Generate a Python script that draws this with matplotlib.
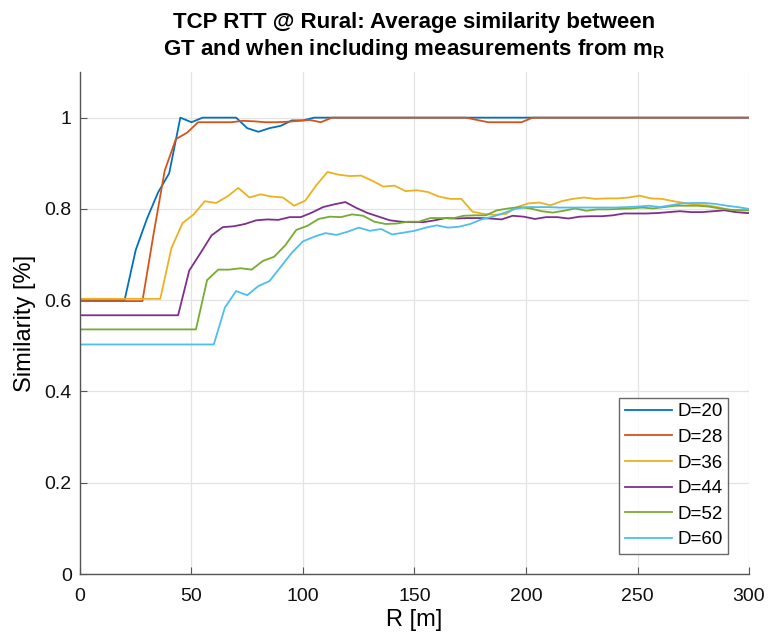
import numpy as np
import matplotlib
matplotlib.use("Agg")
import matplotlib.pyplot as plt

plt.rcParams['font.family'] = ['Liberation Sans', 'DejaVu Sans']
plt.rcParams['mathtext.fontset'] = 'custom'
plt.rcParams['mathtext.rm'] = 'Liberation Sans'
plt.rcParams['mathtext.bf'] = 'Liberation Sans:bold'

# distance D for each curve; each curve is flat up to R = D, then sampled every 5 m
dists = [20, 28, 36, 44, 52, 60]
labels = ['D=20', 'D=28', 'D=36', 'D=44', 'D=52', 'D=60']
colors = ['#0072BD', '#D95319', '#EDB120', '#7E2F8E', '#77AC30', '#4DBEEE']

sim_d20 = [0.600, 0.710, 0.778, 0.836, 0.878, 1.000, 0.990, 1.000, 1.000, 1.000,
           1.000, 0.977, 0.969, 0.977, 0.982, 0.994, 0.994, 1.000, 1.000, 1.000,
           1.000, 1.000, 1.000, 1.000, 1.000, 1.000, 1.000, 1.000, 1.000, 1.000,
           1.000, 1.000, 1.000, 1.000, 1.000, 1.000, 1.000, 1.000, 1.000, 1.000,
           1.000, 1.000, 1.000, 1.000, 1.000, 1.000, 1.000, 1.000, 1.000, 1.000,
           1.000, 1.000, 1.000, 1.000, 1.000, 1.000, 1.000]
sim_d28 = [0.598, 0.745, 0.884, 0.953, 0.967, 0.990, 0.990, 0.990, 0.990, 0.993,
           0.992, 0.990, 0.990, 0.991, 0.993, 0.995, 0.990, 1.000, 1.000, 1.000,
           1.000, 1.000, 1.000, 1.000, 1.000, 1.000, 1.000, 1.000, 1.000, 1.000,
           0.995, 0.990, 0.990, 0.990, 0.990, 1.000, 1.000, 1.000, 1.000, 1.000,
           1.000, 1.000, 1.000, 1.000, 1.000, 1.000, 1.000, 1.000, 1.000, 1.000,
           1.000, 1.000, 1.000, 1.000, 1.000]
sim_d36 = [0.603, 0.714, 0.769, 0.788, 0.817, 0.813, 0.827, 0.846, 0.825, 0.832,
           0.827, 0.825, 0.807, 0.818, 0.852, 0.881, 0.875, 0.872, 0.873, 0.862,
           0.849, 0.851, 0.839, 0.841, 0.837, 0.827, 0.822, 0.822, 0.794, 0.789,
           0.787, 0.789, 0.804, 0.812, 0.814, 0.808, 0.817, 0.822, 0.825, 0.822,
           0.823, 0.823, 0.825, 0.829, 0.823, 0.822, 0.817, 0.813, 0.809, 0.808,
           0.804, 0.798, 0.797]
sim_d44 = [0.567, 0.665, 0.703, 0.742, 0.760, 0.762, 0.767, 0.775, 0.777, 0.776,
           0.782, 0.782, 0.792, 0.804, 0.810, 0.815, 0.802, 0.791, 0.783, 0.775,
           0.772, 0.771, 0.771, 0.775, 0.780, 0.779, 0.780, 0.780, 0.779, 0.777,
           0.785, 0.783, 0.778, 0.782, 0.782, 0.779, 0.783, 0.784, 0.784, 0.786,
           0.790, 0.790, 0.790, 0.791, 0.793, 0.795, 0.793, 0.793, 0.795, 0.797,
           0.793, 0.791]
sim_d52 = [0.536, 0.644, 0.667, 0.667, 0.670, 0.667, 0.686, 0.695, 0.720, 0.754,
           0.763, 0.778, 0.783, 0.782, 0.788, 0.785, 0.772, 0.767, 0.768, 0.772,
           0.772, 0.780, 0.780, 0.779, 0.785, 0.786, 0.786, 0.797, 0.801, 0.804,
           0.801, 0.795, 0.792, 0.796, 0.801, 0.796, 0.799, 0.799, 0.800, 0.801,
           0.803, 0.801, 0.804, 0.807, 0.807, 0.807, 0.805, 0.801, 0.798, 0.797]
sim_d60 = [0.503, 0.584, 0.620, 0.611, 0.631, 0.642, 0.673, 0.704, 0.729, 0.739,
           0.747, 0.743, 0.750, 0.759, 0.752, 0.756, 0.744, 0.748, 0.752, 0.759,
           0.764, 0.759, 0.761, 0.767, 0.777, 0.783, 0.791, 0.800, 0.804, 0.804,
           0.804, 0.803, 0.803, 0.803, 0.803, 0.803, 0.803, 0.804, 0.805, 0.807,
           0.804, 0.808, 0.812, 0.813, 0.813, 0.811, 0.807, 0.804, 0.800]
series = [sim_d20, sim_d28, sim_d36, sim_d44, sim_d52, sim_d60]

fig = plt.figure(figsize=(7.69, 6.43), dpi=100)
ax = fig.add_axes([0.104, 0.1073, 0.870, 0.7807])

for d, vals, lab, col in zip(dists, series, labels, colors):
    r = d + 5 * np.arange(len(vals))
    r = np.minimum(r, 300)
    x = np.concatenate([[0], r])
    y = np.concatenate([[vals[0]], vals])
    if x[-1] < 300:
        x = np.append(x, 300)
        y = np.append(y, vals[-1])
    ax.plot(x, y, color=col, lw=1.3, label=lab)

ax.set_xlim(0, 300)
ax.set_ylim(0, 1.1)
ax.set_xticks([0, 50, 100, 150, 200, 250, 300])
ax.set_yticks([0, 0.2, 0.4, 0.6, 0.8, 1.0])
ax.set_yticklabels(['0', '0.2', '0.4', '0.6', '0.8', '1'])
ax.grid(True, color='#e3e3e3', lw=0.9)
ax.set_axisbelow(True)
for s in ['top', 'right']:
    ax.spines[s].set_visible(False)
for s in ['left', 'bottom']:
    ax.spines[s].set_color('#555555')
    ax.spines[s].set_linewidth(1.0)
ax.tick_params(direction='in', length=5, color='#555555', labelsize=14,
               labelcolor='#111111', pad=6)
ax.tick_params(axis='x', pad=10)

ax.set_xlabel('R [m]', fontsize=17, labelpad=3)
ax.set_ylabel('Similarity [%]', fontsize=17, labelpad=6)
ax.set_title('TCP RTT @ Rural: Average similarity between\n'
             'GT and when including measurements from m$_\\mathbf{R}$',
             fontsize=16, fontweight='bold', pad=12, linespacing=1.25)

leg = ax.legend(loc='lower right', bbox_to_anchor=(0.969, 0.04), fontsize=13.5,
                frameon=True, fancybox=False, handlelength=2.5, borderpad=0.3,
                labelspacing=0.45, handletextpad=0.3, borderaxespad=0)
leg.get_frame().set_edgecolor('#444444')
leg.get_frame().set_linewidth(1.0)

fig.savefig('out.png', dpi=100)
